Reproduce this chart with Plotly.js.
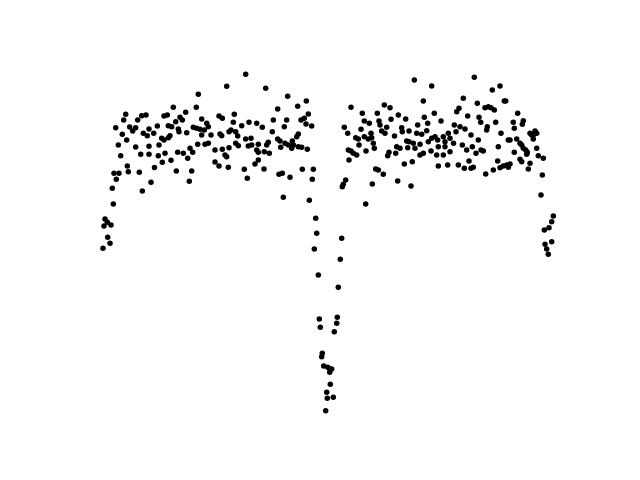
<!DOCTYPE html>
<html>
<head>
<meta charset="utf-8">
<script src="https://cdn.plot.ly/plotly-3.0.1.min.js"></script>
<style>html,body{margin:0;padding:0;background:#fff;}#chart{width:640px;height:480px;}</style>
</head>
<body>
<div id="chart"></div>
<script>
const xLeft = [45.7,43.7,35.7,49.7,52.7,55.7,57.7,61.7,66,42.3,46.7,63.3,67.3,69,73.7,38.3,55.7,69,40.7,60.7,69,47.3,48.3,59.3,74.5,34,39,36.3,71,32.3,62.3,33.3,25,27.3,31,24,27.7,30,23,
118.3,116.3,93.3,105.7,84,87.3,100,102.3,121.7,95.7,77.3,88.3,91.7,113.3,116.7,126.7,128.3,124.3,120,98.3,99,106.7,121.7,131,90,88.3,81.7,84,79,117.7,125,128.3,110,112.7,97.7,103.3,85,78.3,107.7,91,82.3,96.3,111.7,109.3,
165.7,146.7,185.7,154.3,139,142.3,193.3,169,176.7,153.3,161.7,182.3,151,149,155.7,140,141.7,157.7,171,192.3,165.7,155.7,158.3,168.3,171.7,178.3,188.3,186.7,135,142.3,149,176.7,178.3,184.3,189.3,145,146.7,178.3,175,135,139,148.3,164.3,184,167.3,
207.7,226.3,217.7,197.7,228.3,221,224.3,206.7,226,231.7,204.3,218.3,216.7,197.7,200,205,208.3,212.3,213.3,211.7,200.7,218.3,221.7,227.3,199,202.3,210,222.3,233.3,232.3,203.3,229.3];
const yLeft = [312.7,307,299.3,300,296,299.3,307,311.3,312,292.7,287,293.7,291.3,298,293.7,282,280,280.7,271.3,272.7,272.7,261,255.3,254.7,259.5,253.7,253.7,247.7,244.7,238.7,236,223,208,204.7,202,201,189.7,183.7,178.7,
332.7,319.7,319.7,314.7,311,312,309.7,307,308,305.3,301,301.3,300.3,299.7,298.7,303.7,300.3,297,297.7,298,295.3,294.3,292,292,291.3,289.3,288.7,287,282,282.7,282.7,283.7,278.7,274.7,274.7,273.7,273.7,271.3,268.7,266.7,264.7,256,256,245.7,
352.7,340.7,338.7,312.7,311,308.7,307,304.7,303.7,304.7,301.3,299.7,297,295.3,295.3,293,291.3,291,288.7,295.3,288,283.7,281.3,281,282,282.7,284.7,282,277,277.7,279.3,277,274.7,275.3,273.7,272,270.3,267,263,265,261,259.7,257.7,258,248.7,
330.7,326,320.7,318,313,307,308.7,307,303,301,300.3,293,290.3,288,286,283.7,282,286,282,278.7,279.7,280.3,279.7,277.7,252.7,253.7,249.7,257.7,257.7,247.7,229.7,226.7];

const xDip = [235.7,236.7,261.7,234.3,260.3,238.3,258.3,239.3,257.3,240.3,256.7,254.3,242.3,241.7,243.7,247.7,250,251.7,249.7,250.3,246.7,247.3,253.3,245.7];
const yDip = [208.7,193.7,188.7,178,167.7,152,139.7,108,109.7,99.7,103.7,95.3,73.7,70.3,61,59.7,58,58,54.7,42.7,34.7,28.7,29.7,16.3];

const xRight = [271,304.3,310,282.3,297.3,311,264.3,284.3,289.3,299,300,306.7,281,267.7,301.7,305,291,275.7,278.3,284.3,288.3,291.7,279,293.3,294.3,268.3,271,273.3,276.7,286,269,309,307.7,295.7,298.3,303.3,265.7,263.3,262.3,292.3,285.7,
334.3,351.7,343.3,318.3,325.7,354.3,344.3,361,347.7,337.7,321.7,322.3,329,336.7,341.7,346.7,368.3,374.3,314.5,326.7,329,333.3,348.3,351.7,355,357.7,363.3,365,370,373.5,316.7,320,340,335,327.7,358.3,365,315.7,340,343.3,351,356.7,363.3,370,324.3,332.3,358.3,367.7,317.7,331,
394.3,420,412.3,383.3,424.3,425.7,397.3,379,376.7,405,408.3,411,414.3,387.7,399,400.7,415.7,433.3,380,385,407.3,406.7,376,391,421,434.3,398.3,428.3,430,382.3,392.3,418.3,386.7,401,403.3,396,434.3,389,417.7,378.3,384.3,391,393.3,405.7,413.3,420,423.3,426.7,430,428.3,
437.7,443.3,442.3,455,456.7,450,451.7,453.3,436.7,440,441.7,453.3,443.3,445.7,447.3,446.7,456.7,458.3,463.3,440,441.7,450,448.3,462.3,461,473.3,471.7,469,464.3,471.7,465,466.7,468.3];
const yRight = [319.7,322,319.3,313.7,313.7,307.7,299.7,306,303.7,306,302,299.7,297.7,293.7,296,293.7,293.7,289.3,288,290.3,288,289.3,282,283.7,278.7,277,276,273.7,272,276,267,274.7,271.3,258,257,252.7,247,242.7,240.3,243,223,
347,341,326,312,308,313.7,309.7,306,303.7,302,299.3,295.3,296,293.7,292.7,296.3,293.7,302,291,286,285.3,283.7,285.3,288.7,290.3,287,290.3,285.3,288.7,283.7,280.3,278.7,282.7,278.7,279.3,280.3,280.3,273.7,272,273.7,276,272,272,275.3,263,265.3,261,262,246,241,
349.7,341,337,328.7,326,326,323.7,318.7,315.3,319.3,320.3,319.3,317,311,309.7,304.7,304.7,304.7,300.3,298,300.3,297,295.3,292,293.7,298.7,287,287,287,282,280.3,280.3,277,277,276,273.7,274.7,266,266,262,258.7,258.7,259.7,253,257,259.3,261,262,263,259.7,
313.7,306.3,302.7,296,293.7,293.7,292,292,288,283.7,282,288,278.7,277,274.7,272.7,278.7,271.3,268.7,267.7,265.3,263.7,258,252,232,211,205.3,199.3,197,185.3,182.7,178,172.7];

const x = xLeft.concat(xDip, xRight);
const y = yLeft.concat(yDip, yRight);

const trace = {
  x: x, y: y,
  type: 'scatter', mode: 'markers',
  marker: {color: '#000000', size: 5.5, line: {width: 0}},
  cliponaxis: false,
  hoverinfo: 'x+y'
};

const hidden = {visible: false, showgrid: false, zeroline: false, fixedrange: true};
const layout = {
  width: 640, height: 480,
  margin: {l: 80, r: 64, t: 58, b: 53},
  paper_bgcolor: '#ffffff', plot_bgcolor: '#ffffff',
  showlegend: false,
  xaxis: Object.assign({range: [0, 496]}, hidden),
  yaxis: Object.assign({range: [0, 369]}, hidden)
};

Plotly.newPlot('chart', [trace], layout, {staticPlot: true, displayModeBar: false});
</script>
</body>
</html>
